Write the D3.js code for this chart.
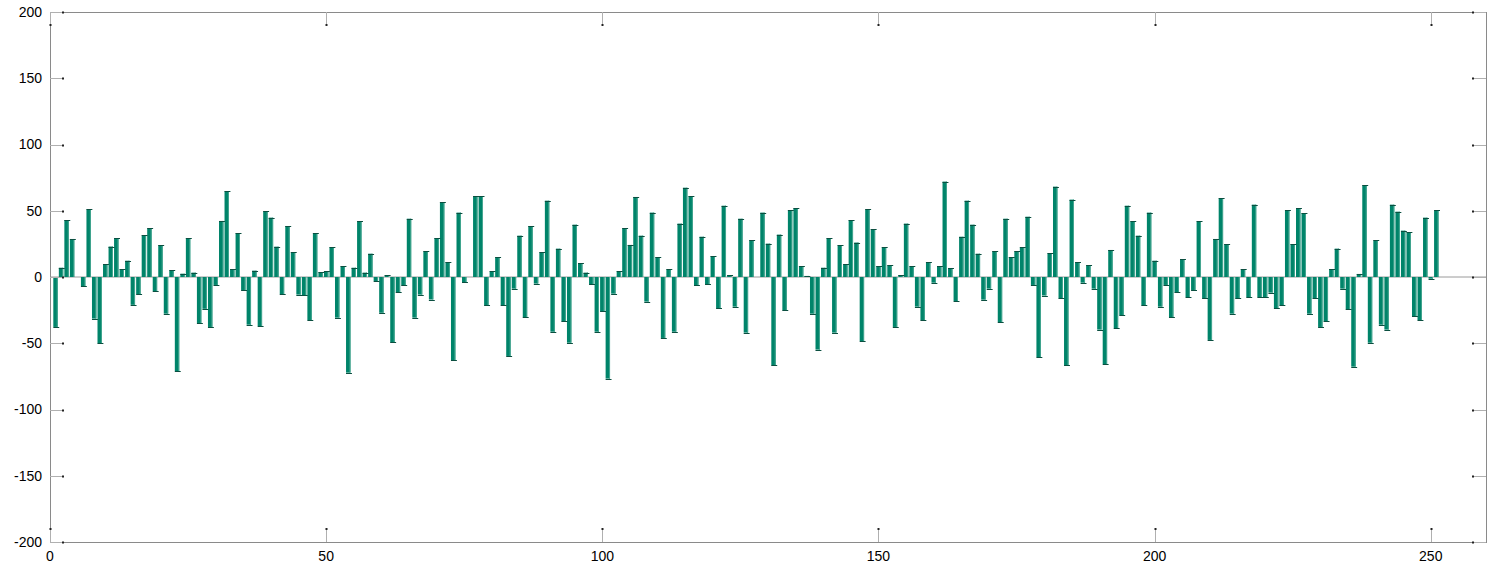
<!DOCTYPE html>
<html>
<head>
<meta charset="utf-8">
<script src="https://cdn.jsdelivr.net/npm/d3@7"></script>
<style>
  body { margin: 0; background: #fff; }
  text { font-family: "Liberation Sans", Arial, sans-serif; font-size: 14px; fill: #000; }
</style>
</head>
<body>
<script>
// bar values, one per index 1..251
var values = [
  -37.7, 7, 43, 28.7, 0, -6.8, 51, -31.4, -50, 9.6,
  23, 29.4, 5.8, 12.3, -21, -13, 31.4, 36.7, -10.6, 24,
  -27.7, 5, -71, 2.5, 29.4, 3.3, -34.7, -24, -37.7, -6,
  42.3, 64.7, 5.8, 33, -9.8, -36, 4.8, -37, 49.6, 44.8,
  22.9, -13, 38.5, 18.6, -13.3, -13.6, -32.5, 33, 3.5, 4.3,
  22.4, -30.7, 8, -72.2, 7, 42, 3.3, 17.6, -3, -27,
  1.5, -49.3, -11.6, -6.3, 44, -30.7, -13.3, 19.4, -17, 29.4,
  56.6, 11.3, -62.9, 48.6, -3.8, 0, 60.9, 60.9, -21.4, 4.3,
  15, -21.4, -59.6, -8.8, 31.2, -30.4, 38.5, -5, 18.6, 57.6,
  -41.3, 21.4, -33.5, -49.6, 39.5, 10.3, 3.3, -5.5, -41.3, -26,
  -76.7, -12.6, 4.3, 36.7, 24.2, 60.4, 31.2, -18.6, 48.6, 15,
  -46, 5.8, -41.3, 40.3, 67.4, 60.9, -6.3, 30.4, -5.3, 15.8,
  -23.4, 53.8, 1.3, -22.4, 44, -42, 27.7, 0, 48.6, 25.2,
  -66.7, 32, -25.2, 50.3, 51.8, 8, 0.8, -27.7, -54.8, 7,
  29.4, -42, 24, 9.6, 43, 26, -48.3, 51, 36, 8.3,
  22.4, 8.8, -37.7, 1.5, 40.3, 8, -22.4, -32.5, 11.3, -4.3,
  8, 72, 6.8, -18.1, 30.4, 57.6, 39.5, 17.6, -17.1, -8.8,
  19.4, -34, 44, 15, 19.4, 22.4, 45.5, -6, -60.4, -14,
  17.9, 68.2, -16.1, -66.7, 58.4, 11.3, -4.3, 8.8, -8.8, -39.7,
  -65.7, 20.4, -38.7, -28.7, 53.8, 42, 31.2, -21.4, 48.6, 12.3,
  -22.4, -6, -30.4, -11.6, 13.3, -15.1, -9.8, 42, -16.1, -47.5,
  28.7, 59.4, 24.9, -27.7, -16.1, 6, -15.1, 54.6, -15.1, -15.1,
  -11.8, -23.4, -21.4, 50.3, 24.9, 51.8, 48.3, -27.7, -16.1, -37.7,
  -33.5, 6, 21.4, -8.8, -24.4, -67.7, 2.3, 69.2, -49.6, 27.7,
  -36, -39.7, 54.6, 49.3, 35, 33.7, -29.7, -32.5, 44.8, -1.3,
  50.3
];
var xTicks = [0, 50, 100, 150, 200, 250];
var yTicks = [-200, -150, -100, -50, 0, 50, 100, 150, 200];
var xDomain = [0, 260];
var yDomain = [-200, 200];

var width = 1497, height = 570;
var plot = {left: 50, right: 1486, top: 12, bottom: 542};
var tickLen = 14;
var barColor = "#00846a";

var data = values.map(function(v, i) { return {id: i + 1, v: v}; });

var x = d3.scaleLinear().domain(xDomain).range([plot.left, plot.right]);
var y = d3.scaleLinear().domain(yDomain).range([plot.bottom, plot.top]);
var barW = x(0.8) - x(0);

var svg = d3.select("body").append("svg")
    .attr("width", width)
    .attr("height", height);

// zero line
svg.append("line")
    .attr("x1", plot.left).attr("x2", plot.right)
    .attr("y1", y(0)).attr("y2", y(0))
    .style("stroke", "#9a9a9a").style("stroke-width", 1);

// bars
var bars = svg.append("g").attr("class", "bars");
bars.selectAll("rect").data(data).enter().append("rect")
    .attr("x", function(d) { return x(d.id) - barW / 2; })
    .attr("y", function(d) { return Math.min(y(d.v), y(0)); })
    .attr("width", barW)
    .attr("height", function(d) { return Math.abs(y(d.v) - y(0)); })
    .style("fill", barColor);

// slightly lighter right edge
bars.selectAll("line.edge").data(data).enter().append("line")
    .attr("class", "edge")
    .attr("x1", function(d) { return x(d.id) + barW / 2 - 0.5; })
    .attr("x2", function(d) { return x(d.id) + barW / 2 - 0.5; })
    .attr("y1", function(d) { return y(d.v); })
    .attr("y2", y(0))
    .style("stroke", "#45a690").style("stroke-width", 1);

// dark cap at the bar end
bars.selectAll("line.cap").data(data.filter(function(d) { return d.v !== 0; })).enter().append("line")
    .attr("class", "cap")
    .attr("x1", function(d) { return x(d.id) - barW / 2; })
    .attr("x2", function(d) { return x(d.id) + barW / 2 + 1.5; })
    .attr("y1", function(d) { return Math.round(y(d.v)) + 0.5; })
    .attr("y2", function(d) { return Math.round(y(d.v)) + 0.5; })
    .style("stroke", "#0b4f40").style("stroke-width", 1);

// axes box
svg.append("rect")
    .attr("x", plot.left + 0.5).attr("y", plot.top + 0.5)
    .attr("width", plot.right - plot.left).attr("height", plot.bottom - plot.top)
    .style("fill", "none").style("stroke", "#8a8a8a").style("stroke-width", 1);

// ticks (inward, grey with dark end dot)
var ticks = svg.append("g").attr("class", "ticks");
yTicks.forEach(function(t) {
    var yy = Math.round(y(t)) + 0.5;
    [[plot.left, plot.left + tickLen], [plot.right, plot.right - tickLen]].forEach(function(p) {
        ticks.append("line")
            .attr("x1", p[0]).attr("x2", p[1]).attr("y1", yy).attr("y2", yy)
            .style("stroke", "#b0b0b0");
        ticks.append("rect")
            .attr("x", p[1] > p[0] ? p[1] - 2 : p[1]).attr("y", yy - 1)
            .attr("width", 2).attr("height", 2).style("fill", "#222");
    });
});
xTicks.forEach(function(t) {
    var xx = Math.round(x(t)) + 0.5;
    [[plot.bottom, plot.bottom - tickLen], [plot.top, plot.top + tickLen]].forEach(function(p) {
        ticks.append("line")
            .attr("x1", xx).attr("x2", xx).attr("y1", p[0]).attr("y2", p[1])
            .style("stroke", "#b0b0b0");
        ticks.append("rect")
            .attr("x", xx - 1).attr("y", p[1] > p[0] ? p[1] - 2 : p[1])
            .attr("width", 2).attr("height", 2).style("fill", "#222");
    });
});

// tick labels
svg.append("g").selectAll("text").data(yTicks).enter().append("text")
    .attr("x", plot.left - 8)
    .attr("y", function(d) { return y(d); })
    .attr("dy", "0.35em")
    .style("text-anchor", "end")
    .text(function(d) { return d; });

svg.append("g").selectAll("text").data(xTicks).enter().append("text")
    .attr("x", function(d) { return x(d); })
    .attr("y", plot.bottom + 14)
    .attr("dy", "0.35em")
    .style("text-anchor", "middle")
    .text(function(d) { return d; });
</script>
</body>
</html>
